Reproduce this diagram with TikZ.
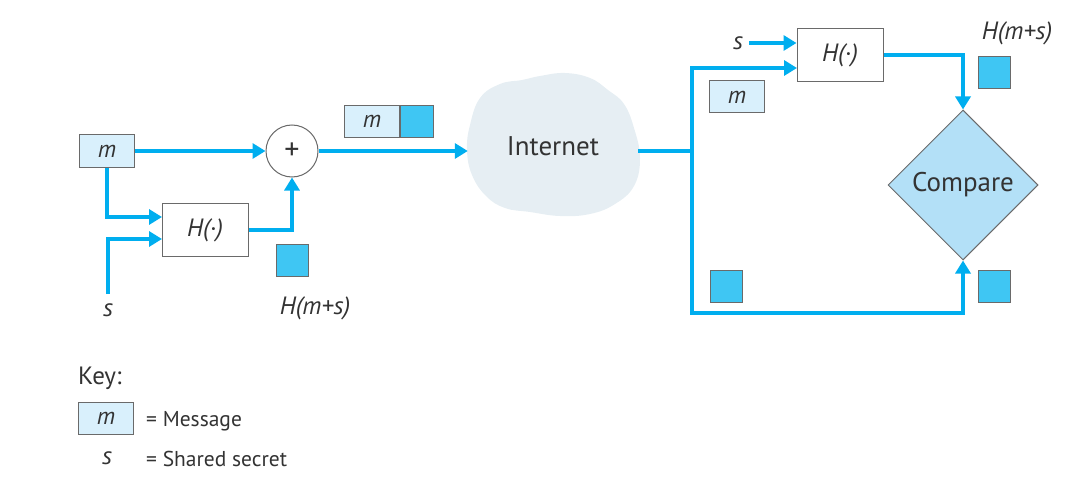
\documentclass[tikz,border=0pt]{standalone}
\usepackage{fontspec}
\setmainfont{PT Sans}
\usetikzlibrary{arrows.meta,shapes.geometric}
\definecolor{flow}{HTML}{00AEEF}
\definecolor{msgfill}{HTML}{D9F0FC}
\definecolor{hashfill}{HTML}{3FC6F3}
\definecolor{cmpfill}{HTML}{B3E0F7}
\definecolor{cloudfill}{HTML}{E6EEF3}
\definecolor{edge}{HTML}{6A6A6A}
\definecolor{txt}{HTML}{333333}
\tikzset{
  flowline/.style={draw=flow,line width=4.5pt},
  arr/.style={flowline,-{Triangle[length=13pt,width=15pt]}},
  msgbox/.style={draw=edge,line width=1pt,fill=msgfill,minimum width=55pt,minimum height=32pt,inner sep=0pt,font=\fontsize{24}{26}\selectfont\itshape,text=txt},
  hashbox/.style={draw=edge,line width=1pt,fill=hashfill,minimum size=32pt,inner sep=0pt},
  fnbox/.style={draw=edge,line width=1pt,fill=white,minimum width=86pt,minimum height=53pt,inner sep=0pt,font=\fontsize{25}{27}\selectfont\itshape,text=txt},
  lbl/.style={text=txt,inner sep=0pt,font=\fontsize{25}{27}\selectfont\itshape},
  plain/.style={text=txt,inner sep=0pt,font=\fontsize{21.5}{24}\selectfont},
}
\begin{document}
\begin{tikzpicture}[x=1pt,y=-1pt]
\useasboundingbox (0,0) rectangle (1092,492);
% ---- cloud
\fill[cloudfill] plot[smooth cycle,tension=0.7] coordinates {
 (470,125) (480,98) (500,84) (522,80) (540,76) (565,73) (590,78) (608,90) (624,104) (634,128)
 (640,158) (634,186) (615,204) (590,214) (560,216) (530,212) (505,208) (486,196) (472,175) (467,150)};
\node[minimum width=170pt,minimum height=140pt,inner sep=0pt,text=txt,font=\fontsize{27}{29}\selectfont] (inet) at (553,146) {Internet};
% ---- sender
\node[msgbox] (m1) at (107,151) {m};
\node[fnbox] (H1) at (205,230) {H(·)};
\node[circle,draw=edge,line width=1pt,fill=white,minimum size=52pt,inner sep=0pt,font=\fontsize{30}{32}\selectfont,text=txt] (plus) at (292,151) {+};
\node[hashbox] (hq1) at (292,260) {};
\node[lbl] (s1) at (108,310) {s};
\node[lbl] (hl1) at (315,308) {H(m+s)};
\coordinate (h1a) at (162,217);
\coordinate (h1b) at (162,239);
\coordinate (s1top) at (108,294);
\draw[arr] (m1.east) -- (plus.west);
\draw[arr] (m1.south) |- (h1a);
\draw[arr] (s1top) |- (h1b);
\draw[arr] (H1.east) -| (plus.south);
\draw[arr] (plus.east) -- (inet.west |- plus.east);
% packet above
\node[msgbox] (pm) at (372,121.5) {m};
\node[hashbox,anchor=west,minimum width=33pt,minimum height=32pt] (ph) at (pm.east) {};
% ---- receiver
\node[fnbox] (H2) at (840,55) {H(·)};
\node[diamond,draw=edge,line width=1pt,fill=cmpfill,minimum width=150pt,minimum height=150pt,inner sep=0pt,aspect=1,text=txt,font=\fontsize{27}{29}\selectfont] (cmp) at (963,185) {Compare};
\node[lbl] (s2) at (738,43) {s};
\node[msgbox] (m2) at (737,97) {m};
\node[hashbox] (hq2) at (994,73) {};
\node[hashbox] (hq3) at (994,286) {};
\node[hashbox] (hq4) at (726,286) {};
\node[lbl] (hl2) at (1017,33) {H(m+s)};
\coordinate (jn) at (692,151);
\coordinate (jtop) at (692,68);
\coordinate (jbot) at (692,313);
\coordinate (h2b) at (797,68);
\coordinate (cbot) at (963,313);
\draw[flowline] (inet.east |- jn) -- (jn);
\draw[flowline,{Triangle[length=13pt,width=15pt]}-{Triangle[length=13pt,width=15pt]}] (h2b) -- (jtop) -- (jbot) -- (cbot) -- (cmp.south);
\draw[arr] ([xshift=6pt]s2.east) -- (H2.west |- s2);
\draw[arr] (H2.east) -| (cmp.north);
% ---- key
\node[plain,anchor=west,font=\fontsize{25}{27}\selectfont] (key) at (78,378) {Key:};
\node[msgbox] (km) at (106,418) {m};
\node[plain,anchor=west] (kmt) at (146,421) {= Message};
\node[lbl] (ks) at (107,458) {s};
\node[plain,anchor=west] (kst) at (146,459) {= Shared secret};
\end{tikzpicture}
\end{document}
